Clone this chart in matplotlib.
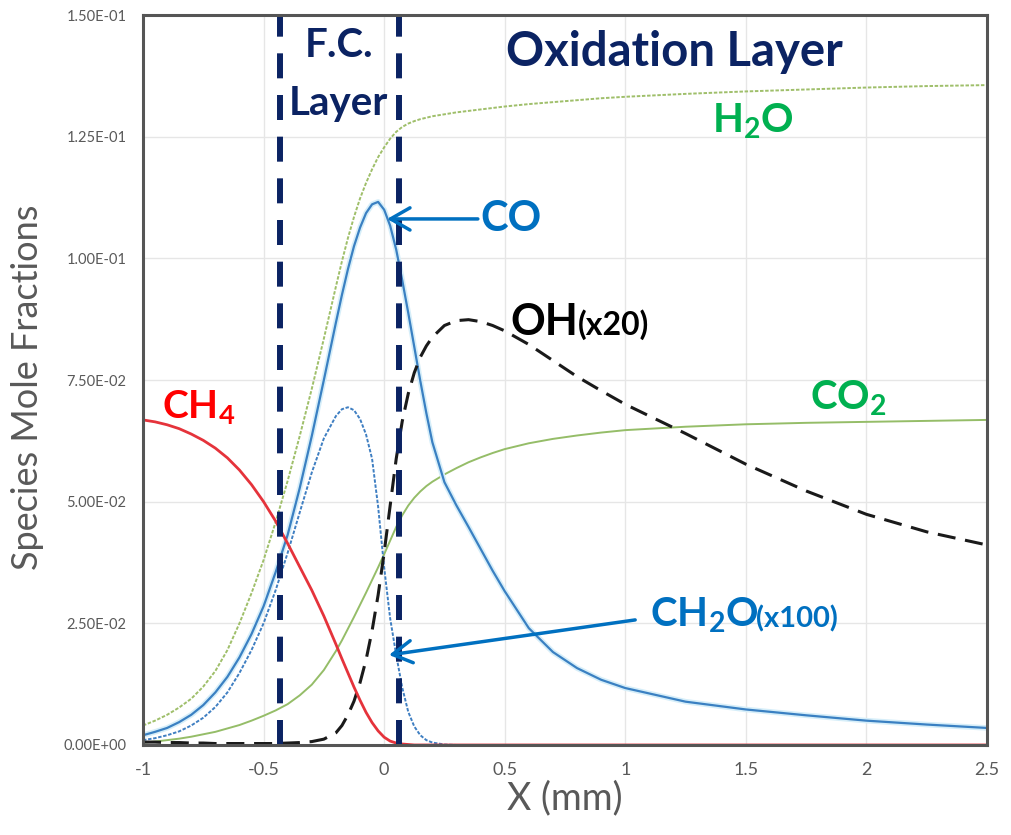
import numpy as np
import matplotlib.pyplot as plt
import matplotlib.patheffects as pe

plt.rcParams['font.family'] = ['Lato', 'DejaVu Sans']
plt.rcParams['mathtext.fontset'] = 'custom'
plt.rcParams['mathtext.rm'] = 'Lato'
plt.rcParams['mathtext.bf'] = 'Lato:bold'
plt.rcParams['lines.scale_dashes'] = False

# posiciones (mm)
x_mm = [-1, -0.95, -0.9, -0.85, -0.8, -0.75, -0.7, -0.65, -0.6, -0.55, -0.5, -0.45,
        -0.4, -0.35, -0.3, -0.25, -0.2,
        -0.175, -0.15, -0.125, -0.1, -0.075, -0.05, -0.025, 0, 0.025, 0.05, 0.075,
        0.1, 0.125, 0.15, 0.175, 0.2,
        0.25, 0.3, 0.35, 0.4, 0.45, 0.5,
        0.6, 0.7, 0.8, 0.9, 1.0,
        1.25, 1.5, 1.75, 2.0, 2.25, 2.5]

ch4 = [0.0668, 0.0664, 0.0658, 0.0650, 0.0639, 0.0626, 0.0610, 0.0590, 0.0565,
       0.0535, 0.0500, 0.0460, 0.0414, 0.0366, 0.0318, 0.0265, 0.0207,
       0.0177, 0.0148, 0.0119, 0.0092, 0.0067, 0.0046, 0.0029, 0.0016, 0.0008,
       0.0004, 0.0002, 0.0001, 0, 0, 0, 0,
       0, 0, 0, 0, 0, 0,
       0, 0, 0, 0, 0,
       0, 0, 0, 0, 0, 0]

co = [0.0020, 0.0027, 0.0035, 0.0047, 0.0062, 0.0082, 0.0108, 0.0140, 0.0180,
      0.0228, 0.0285, 0.0355, 0.0432, 0.0528, 0.0635, 0.0750, 0.0868,
      0.0925, 0.0978, 0.1025, 0.1063, 0.1093, 0.1111, 0.1116, 0.1100, 0.1067,
      0.1018, 0.0955, 0.0888, 0.0818, 0.0748, 0.0682, 0.0622,
      0.0540, 0.0492, 0.0448, 0.0403, 0.0358, 0.0316,
      0.0240, 0.0191, 0.0158, 0.0134, 0.0117,
      0.0089, 0.0073, 0.0061, 0.0050, 0.0042, 0.0035]

h2o = [0.0040, 0.0050, 0.0062, 0.0077, 0.0095, 0.0120, 0.0152, 0.0195, 0.0250,
       0.0312, 0.0380, 0.0458, 0.0543, 0.0635, 0.0732, 0.0835, 0.0942,
       0.0994, 0.1042, 0.1085, 0.1123, 0.1155, 0.1183, 0.1208, 0.1228, 0.1246,
       0.1260, 0.1270, 0.1277, 0.1282, 0.1286, 0.1289, 0.1292,
       0.1296, 0.1300, 0.1303, 0.1306, 0.1309, 0.1312,
       0.1317, 0.1321, 0.1325, 0.1329, 0.1332,
       0.1338, 0.1343, 0.1347, 0.1351, 0.1354, 0.1356]

ch2o = [0.0010, 0.0014, 0.0020, 0.0028, 0.0040, 0.0056, 0.0078, 0.0108, 0.0148,
        0.0195, 0.0250, 0.0318, 0.0395, 0.0478, 0.0560, 0.0630, 0.0676,
        0.0690, 0.0694, 0.0688, 0.0670, 0.0638, 0.0588, 0.0490, 0.0365, 0.0260,
        0.0185, 0.0118, 0.0068, 0.0038, 0.0020, 0.0010, 0.0005,
        0.0001, 0, 0, 0, 0, 0,
        0, 0, 0, 0, 0,
        0, 0, 0, 0, 0, 0]

oh = [0.0006, 0.0006, 0.0005, 0.0005, 0.0004, 0.0004, 0.0003, 0.0003, 0.0003,
      0.0003, 0.0003, 0.0003, 0.0004, 0.0005, 0.0007, 0.0012, 0.0025,
      0.0040, 0.0062, 0.0090, 0.0128, 0.0175, 0.0235, 0.0308, 0.0395, 0.0492,
      0.0588, 0.0665, 0.0722, 0.0765, 0.0797, 0.0820, 0.0838,
      0.0862, 0.0872, 0.0874, 0.0870, 0.0862, 0.0851,
      0.0823, 0.0790, 0.0757, 0.0728, 0.0700,
      0.0640, 0.0577, 0.0522, 0.0474, 0.0438, 0.0411]

co2 = [0.0005, 0.0007, 0.0010, 0.0013, 0.0017, 0.0022, 0.0027, 0.0034, 0.0041,
       0.0050, 0.0060, 0.0071, 0.0084, 0.0102, 0.0124, 0.0154, 0.0193,
       0.0215, 0.0239, 0.0263, 0.0288, 0.0313, 0.0339, 0.0365, 0.0392, 0.0420,
       0.0448, 0.0472, 0.0492, 0.0508, 0.0521, 0.0532, 0.0541,
       0.0556, 0.0569, 0.0581, 0.0591, 0.0600, 0.0608,
       0.0620, 0.0629, 0.0636, 0.0642, 0.0647,
       0.0654, 0.0659, 0.0662, 0.0664, 0.0666, 0.0668]

# limites de las capas
capa_fc = [-0.43, 0.06]

x_ticks = [-1, -0.5, 0, 0.5, 1, 1.5, 2, 2.5]
x_tick_labels = ['-1', '-0.5', '0', '0.5', '1', '1.5', '2', '2.5']
y_ticks = [0, 0.025, 0.05, 0.075, 0.1, 0.125, 0.15]

navy = '#0b2363'
gris = '#595959'

fig = plt.figure(figsize=(10.12, 8.35), dpi=100)
ax = fig.add_axes([0.1413, 0.1078, 0.834, 0.8742])

ax.plot(x_mm, h2o, color='#9fbf6a', lw=1.4, dashes=(2.5, 1.2))
ax.plot(x_mm, co2, color='#95bd68', lw=1.4)
ax.plot(x_mm, ch2o, color='#3f7fc2', lw=1.4, dashes=(2.5, 1.2))
ax.plot(x_mm, co, color='#3a80c2', lw=1.6,
        path_effects=[pe.Stroke(linewidth=4, foreground='#d6eef9'), pe.Normal()])
ax.plot(x_mm, oh, color='#1a1a1a', lw=2.2, dashes=(13, 7))
ax.plot(x_mm, ch4, color='#e5333b', lw=2.0)

for xv in capa_fc:
    ax.plot([xv, xv], [0, 0.1495], color=navy, lw=4.3, dashes=(18, 12),
            dash_capstyle='butt', solid_capstyle='butt')

ax.set_xlim(-1, 2.5)
ax.set_ylim(0, 0.15)
ax.set_xticks(x_ticks)
ax.set_xticklabels(x_tick_labels)
ax.set_yticks(y_ticks)
ax.set_yticklabels(['%.2E' % v for v in y_ticks])
ax.tick_params(axis='x', length=0, pad=12, labelsize=13, labelcolor=gris)
ax.tick_params(axis='y', length=0, pad=12, labelsize=10.5, labelcolor=gris)
ax.grid(True, color='#e6e6e6', lw=1.0)
ax.set_axisbelow(True)
for s in ax.spines.values():
    s.set_color('#555555')
    s.set_linewidth(2.2)

ax.set_xlabel('X (mm)', fontsize=27, color=gris, labelpad=2)
ax.set_ylabel('Species Mole Fractions', fontsize=26, color=gris)
ax.yaxis.set_label_coords(-0.117, 0.49)

# etiquetas
ax.text(1.203, 0.1424, 'Oxidation Layer', fontsize=34, fontweight='bold',
        color=navy, ha='center', va='center')
ax.text(-0.185, 0.1438, 'F.C.', fontsize=29, fontweight='bold', color=navy,
        ha='center', va='center')
ax.text(-0.19, 0.1319, 'Layer', fontsize=29, fontweight='bold', color=navy,
        ha='center', va='center')

ax.text(1.36, 0.1258, r'$\mathbf{H_2O}$', fontsize=29, color='#00b050',
        ha='left', va='baseline')
ax.text(1.767, 0.0688, r'$\mathbf{CO_2}$', fontsize=29, color='#00b050',
        ha='left', va='baseline')
ax.text(-0.921, 0.0672, r'$\mathbf{CH_4}$', fontsize=28, color='#ff0000',
        ha='left', va='baseline')
ax.text(0.522, 0.0843, 'OH', fontsize=31, fontweight='bold', color='black',
        ha='left', va='baseline')
ax.text(0.805, 0.0843, '(x20)', fontsize=23, fontweight='bold', color='black',
        ha='left', va='baseline')
ax.text(1.103, 0.02425, r'$\mathbf{CH_2O}$', fontsize=29, color='#0070c0',
        ha='left', va='baseline')
ax.text(1.54, 0.02425, '(x100)', fontsize=21, fontweight='bold', color='#0070c0',
        ha='left', va='baseline')

flecha = dict(arrowstyle='->,head_length=0.7,head_width=0.4', color='#0070c0',
              lw=2.5, shrinkA=0, shrinkB=0, mutation_scale=20)
ax.annotate('CO', xy=(0.012, 0.1081), xytext=(0.40, 0.1081), fontsize=30,
            fontweight='bold', color='#0070c0', va='center', ha='left',
            arrowprops=flecha)
ax.annotate('', xy=(0.02, 0.0185), xytext=(1.041, 0.0257), arrowprops=flecha)

plt.savefig('out.png', dpi=100)
